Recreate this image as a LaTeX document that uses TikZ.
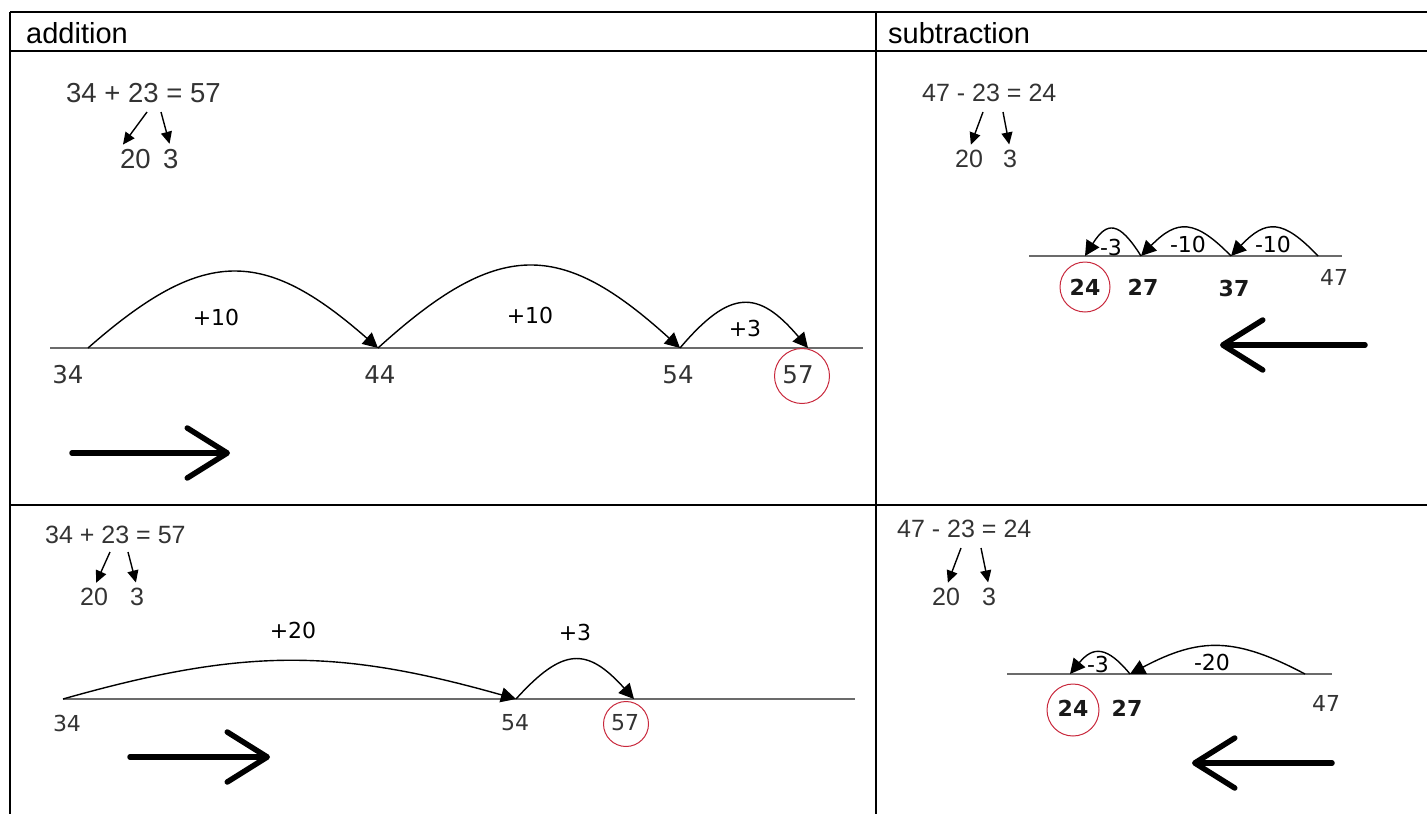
\documentclass[tikz,border=0pt]{standalone}
\usepackage{fontspec}
\setmainfont{Liberation Sans}
\newfontfamily\jumpfont{DejaVu Sans}
\usetikzlibrary{arrows.meta,positioning,calc}
\definecolor{RingRed}{HTML}{C8283C}
\definecolor{LineGray}{HTML}{6B6B6B}
\definecolor{InkGray}{HTML}{333333}

\begin{document}
\begin{tikzpicture}[x=1pt,y=-1pt,
  grid/.style={line width=2.5pt, black},
  head/.style={font={\fontsize{29}{34}\selectfont}, inner sep=0pt},
  eq/.style={font={\fontsize{27.5}{32}\selectfont}, text=InkGray, inner sep=0pt},
  eqs/.style={eq, font={\fontsize{25}{30}\selectfont}},
  split/.style={-{Triangle[length=12pt,width=11pt]}, line width=1.4pt, shorten >=5pt},
  rule/.style={line width=2.2pt, LineGray},
  jump/.style={-{Triangle[length=15pt,width=15pt]}, line width=1.4pt, black},
  num/.style={font={\jumpfont\fontsize{24.5}{28}\selectfont}, text=InkGray, inner sep=1pt},
  nums/.style={num, font={\jumpfont\fontsize{22}{26}\selectfont}},
  numb/.style={num, font={\jumpfont\bfseries\fontsize{22}{26}\selectfont}, text=black!90},
  jl/.style={font={\jumpfont\fontsize{22}{26}\selectfont}, text=black, inner sep=0pt},
  ring/.style={circle, draw=RingRed, line width=1pt, minimum size=#1, inner sep=0pt},
  dir/.style={line width=5.5pt, line cap=round, -{Straight Barb[length=40pt,width=50pt,line cap=round,line join=round]}}]
\useasboundingbox (0,0) rectangle (1427,814);

% table frame
\draw[grid] (10,12) -- (1427,12) (10,51) -- (1427,51) (10,505) -- (1427,505)
  (10,12) -- (10,814) (876,12) -- (876,814);
\node[head, anchor=base west] (hadd) at (26,43) {addition};
\node[head, anchor=base west] (hsub) at (888,43) {subtraction};

% addition, three jumps
\node[eq, anchor=base west] (eqA) at (66,102) {34 + 23 = 57};
\node[eq, anchor=base west] (a20) at (120,168) {20};
\node[eq, anchor=base west] (a3) at (163,168) {3};
\coordinate (a23l) at (147,112); \coordinate (a23r) at (161,112);
\draw[split] (a23l) -- (a20.north west); \draw[split] (a23r) -- (a3.north);
\draw[rule] (50,348) -- (863,348);
\coordinate (pa34) at (88,348); \coordinate (pa44) at (378,348);
\coordinate (pa54) at (680,348); \coordinate (pa57) at (808,348);
\draw[jump] (pa34) .. controls +(115,-101) and +(-115,-101) .. (pa44);
\draw[jump] (pa44) .. controls +(120,-109) and +(-120,-109) .. (pa54);
\draw[jump] (pa54) .. controls +(50,-59) and +(-50,-59) .. (pa57);
\node[jl] (ja1) at (216,317) {+10};
\node[jl] (ja2) at (530,315) {+10};
\node[jl] (ja3) at (745,328) {+3};
\node[num] (na34) at (68,375) {34};
\node[num] (na44) at (380,375) {44};
\node[num] (na54) at (678,375) {54};
\node[num] (na57) at (798,375) {57};
\node[ring=55pt] (ra57) at (802,376) {};
\coordinate (da0) at (72,453); \coordinate (da1) at (230,453);
\draw[dir] (da0) -- (da1);

% subtraction, three jumps
\node[eqs, anchor=base west] (eqB) at (922,101) {47 - 23 = 24};
\node[eqs, anchor=base west] (b20) at (955,167) {20};
\node[eqs, anchor=base west] (b3) at (1003,167) {3};
\coordinate (b23l) at (983,112); \coordinate (b23r) at (1003,112);
\draw[split] (b23l) -- (b20.north); \draw[split] (b23r) -- (b3.north);
\draw[rule] (1029,256) -- (1342,256);
\coordinate (pb47) at (1318,256); \coordinate (pb37) at (1231,256);
\coordinate (pb27) at (1141,256); \coordinate (pb24) at (1085,256);
\draw[jump] (pb47) .. controls +(-35,-37) and +(35,-37) .. (pb37);
\draw[jump] (pb37) .. controls +(-36,-37) and +(36,-37) .. (pb27);
\draw[jump] (pb27) .. controls +(-22,-35) and +(22,-35) .. (pb24);
\node[jl] (jb1) at (1273,244) {-10};
\node[jl] (jb2) at (1188,244) {-10};
\node[jl] (jb3) at (1111,247) {-3};
\node[numb] (nb24) at (1085,287) {24};
\node[ring=50pt] (rb24) at (1085,287) {};
\node[numb] (nb27) at (1143,287) {27};
\node[numb] (nb37) at (1234,288) {37};
\node[nums] (nb47) at (1334,277) {47};
\coordinate (db0) at (1365,345); \coordinate (db1) at (1220,345);
\draw[dir] (db0) -- (db1);

% addition, two jumps
\node[eqs, anchor=base west] (eqC) at (45,543) {34 + 23 = 57};
\node[eqs, anchor=base west] (c20) at (80,605) {20};
\node[eqs, anchor=base west] (c3) at (130,605) {3};
\coordinate (c23l) at (110,552); \coordinate (c23r) at (128,552);
\draw[split] (c23l) -- (c20.north); \draw[split] (c23r) -- (c3.north);
\draw[rule] (63,699) -- (855,699);
\coordinate (pc34) at (63,699); \coordinate (pc54) at (516,699);
\coordinate (pc57) at (634,699);
\draw[jump] (pc34) .. controls +(180,-51) and +(-180,-51) .. (pc54);
\draw[jump] (pc54) .. controls +(47,-52) and +(-47,-52) .. (pc57);
\node[jl] (jc1) at (293,630) {+20};
\node[jl] (jc2) at (575,632) {+3};
\node[nums] (nc34) at (67,723) {34};
\node[nums] (nc54) at (515,723) {54};
\node[nums] (nc57) at (625,723) {57};
\node[ring=45pt] (rc57) at (626,724) {};
\coordinate (dc0) at (130,757); \coordinate (dc1) at (270,757);
\draw[dir] (dc0) -- (dc1);

% subtraction, two jumps
\node[eqs, anchor=base west] (eqD) at (897,537) {47 - 23 = 24};
\node[eqs, anchor=base west] (d20) at (932,605) {20};
\node[eqs, anchor=base west] (d3) at (982,605) {3};
\coordinate (d23l) at (961,548); \coordinate (d23r) at (981,548);
\draw[split] (d23l) -- (d20.north); \draw[split] (d23r) -- (d3.north);
\draw[rule] (1007,674) -- (1332,674);
\coordinate (pd47) at (1305,674); \coordinate (pd27) at (1130,674);
\coordinate (pd24) at (1070,674);
\draw[jump] (pd47) .. controls +(-70,-37) and +(70,-37) .. (pd27);
\draw[jump] (pd27) .. controls +(-23,-28) and +(23,-28) .. (pd24);
\node[jl] (jd1) at (1212,662) {-20};
\node[jl] (jd2) at (1098,664) {-3};
\node[numb] (nd24) at (1073,708) {24};
\node[ring=52pt] (rd24) at (1073,710) {};
\node[numb] (nd27) at (1127,708) {27};
\node[nums] (nd47) at (1326,703) {47};
\coordinate (dd0) at (1332,763); \coordinate (dd1) at (1192,763);
\draw[dir] (dd0) -- (dd1);
\end{tikzpicture}
\end{document}
